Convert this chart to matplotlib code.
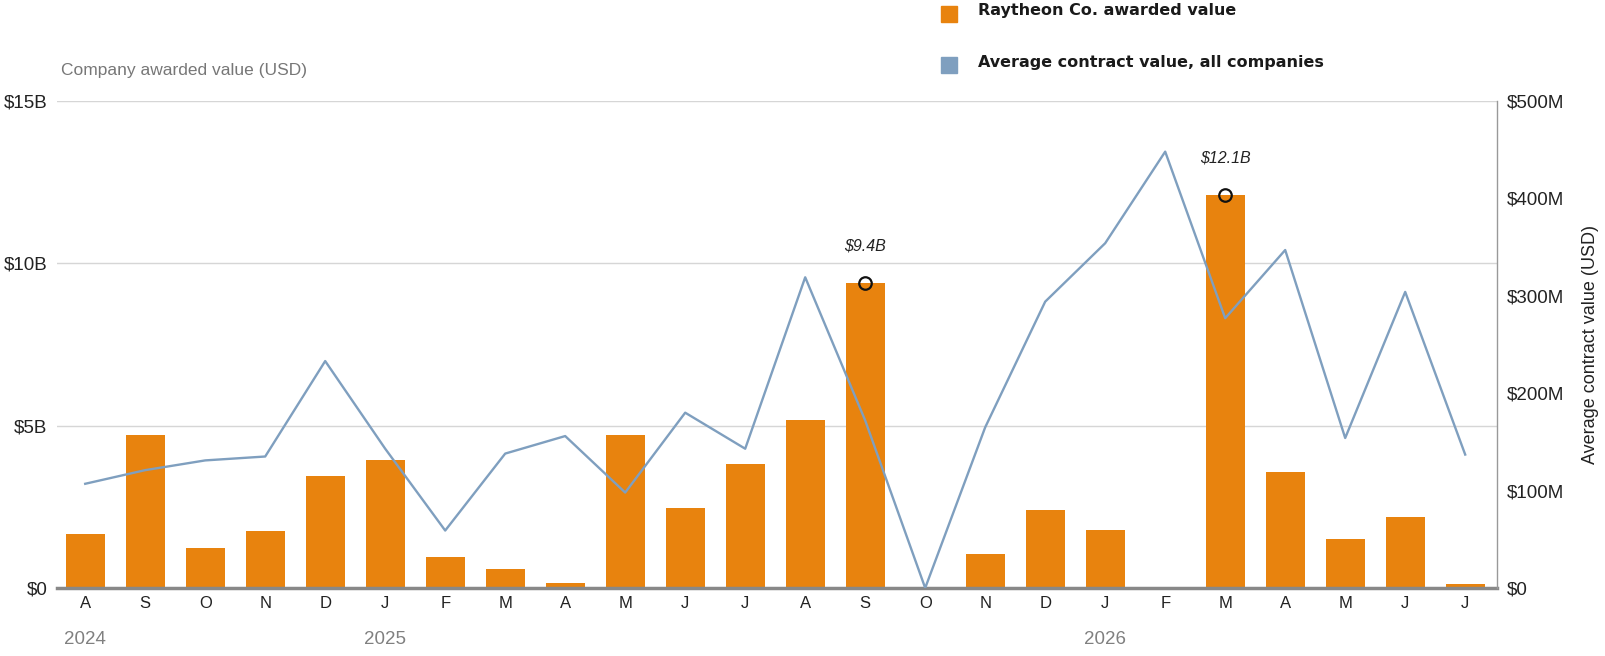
import matplotlib.pyplot as plt
import matplotlib.transforms as mtransforms
from matplotlib.patches import Rectangle
import numpy as np

# Monthly data, Aug 2024 - Jul 2026
months = ["A", "S", "O", "N", "D", "J", "F", "M", "A", "M", "J", "J",
          "A", "S", "O", "N", "D", "J", "F", "M", "A", "M", "J", "J"]
years = ["2024", "2025", "2026"]
year_month_index = [0, 5, 17]

# Raytheon awarded value, billions USD
raytheon_value = [1.66, 4.71, 1.23, 1.75, 3.45, 3.94, 0.95, 0.58, 0.16, 4.71, 2.46, 3.82,
                  5.17, 9.38, 0.0, 1.05, 2.40, 1.78, 0.0, 12.09, 3.57, 1.51, 2.18, 0.12]
# Average contract value, all companies, millions USD
avg_value = [107, 121, 131, 135, 233, 143, 59, 138, 156, 98, 180, 143,
             319, 172, 0, 165, 294, 354, 448, 277, 347, 154, 304, 137]

highlight_index = [13, 19]
highlight_label = ["$9.4B", "$12.1B"]

left_ticks = [0, 5, 10, 15]
left_tick_labels = ["$0", "$5B", "$10B", "$15B"]
right_ticks = [0, 100, 200, 300, 400, 500]
right_tick_labels = ["$0", "$100M", "$200M", "$300M", "$400M", "$500M"]

orange = "#e8830e"
blue = "#7f9fbf"
grid_gray = "#d6d6d6"

plt.rcParams['font.family'] = ['Liberation Sans', 'DejaVu Sans']

fig = plt.figure(figsize=(16.06, 6.56), dpi=100)
ax = fig.add_axes([57 / 1606, 1 - 588 / 656, 1440 / 1606, 487 / 656])
ax2 = ax.twinx()

x = np.arange(len(months))

# Gridlines
for t in left_ticks[1:]:
    ax.axhline(t, color=grid_gray, lw=1, zorder=0)

# Bars
ax.bar(x, raytheon_value, width=0.65, color=orange, linewidth=0, zorder=2)

# Highlight circles and labels
for i, lab in zip(highlight_index, highlight_label):
    ax.plot(x[i], raytheon_value[i], marker="o", ms=9, mfc="none", mec="#111111",
            mew=1.6, zorder=4)
    ax.annotate(lab, (x[i], raytheon_value[i]), xytext=(0, 27), textcoords="offset points",
                ha="center", va="center", fontsize=11.5, style="italic", color="#222222",
                family=['DejaVu Sans Condensed', 'Liberation Sans'])

# Line on right axis
ax2.plot(x, avg_value, color=blue, lw=1.7, zorder=3)

ax.set_xlim(-0.47, len(months) - 0.47)
ax.set_ylim(0, 15)
ax2.set_ylim(0, 500)

ax.set_xticks(x)
ax.set_xticklabels(months, fontsize=12, color="#222222")
ax.set_yticks(left_ticks)
ax.set_yticklabels(left_tick_labels, fontsize=13.5, color="#222222")
ax.tick_params(axis="both", length=0)
ax.tick_params(axis="x", pad=6)
ax.tick_params(axis="y", pad=7)

ax2.set_yticks(right_ticks)
ax2.set_yticklabels(right_tick_labels, fontsize=13.5, color="#222222")
ax2.tick_params(axis="y", length=0, pad=7)

for a in (ax, ax2):
    for side in ("top", "left", "right", "bottom"):
        a.spines[side].set_visible(False)
ax2.spines["right"].set_visible(True)
ax2.spines["right"].set_color("#999999")
ax2.spines["right"].set_linewidth(1)
ax.spines["bottom"].set_visible(True)
ax.spines["bottom"].set_color("#888888")
ax.spines["bottom"].set_linewidth(2.5)
ax.spines["bottom"].set_zorder(5)

# Year labels
trans = mtransforms.blended_transform_factory(ax.transData, ax.transAxes)
for yi, yr in zip(year_month_index, years):
    ax.text(x[yi], -0.105, yr, transform=trans, ha="center", va="center",
            fontsize=13.5, color="#808080")

# Axis titles
fig.text(61 / 1606, 1 - 70 / 656, "Company awarded value (USD)", ha="left", va="center",
         fontsize=12.5, color="#777777")
fig.text(1591 / 1606, 1 - 344 / 656, "Average contract value (USD)", ha="center",
         va="center", rotation=90, fontsize=13, color="#222222")

# Legend
for yc, col, lab in [(14, orange, "Raytheon Co. awarded value"),
                     (65, blue, "Average contract value, all companies")]:
    fig.patches.append(Rectangle((941 / 1606, 1 - (yc + 8) / 656), 16 / 1606, 16 / 656,
                                 transform=fig.transFigure, color=col))
    fig.text(978 / 1606, 1 - (yc - 3) / 656, lab, ha="left", va="center", fontsize=11.5,
             fontweight="bold", color="#1a1a1a", family=['DejaVu Sans'])

fig.savefig("out.png", dpi=100)
